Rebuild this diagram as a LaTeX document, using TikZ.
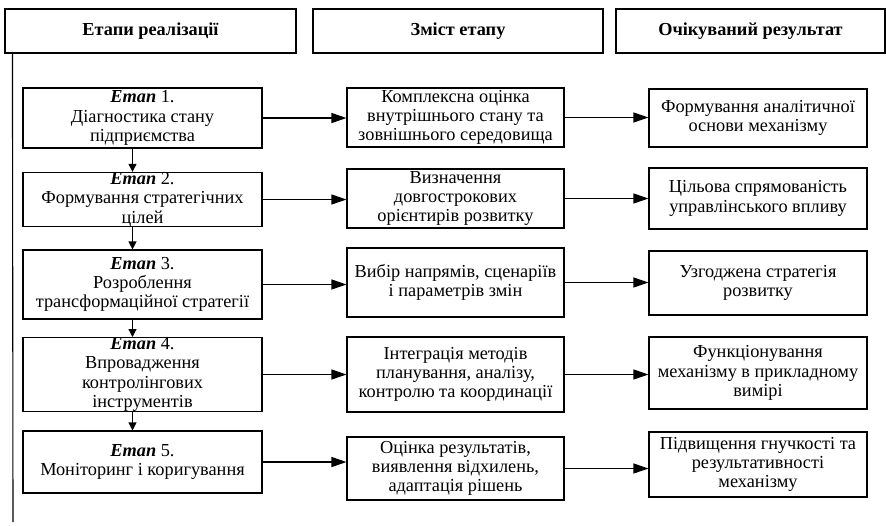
\documentclass[tikz,border=0pt]{standalone}
\usepackage{fontspec}
\setmainfont{Liberation Serif}
\usetikzlibrary{arrows.meta}
\begin{document}
\begin{tikzpicture}[x=1pt,y=-1pt,
  box/.style={draw, line width=1.1pt, align=center, inner sep=0pt,
    font=\fontsize{18.3}{19.3}\selectfont},
  hbox/.style={box, font=\fontsize{18.3}{19.3}\selectfont\bfseries, minimum height=44pt},
  lbox/.style={box, minimum width=239pt},
  mbox/.style={box, minimum width=217pt},
  rbox/.style={box, minimum width=218pt},
  harrow/.style={line width=1.1pt, -{Triangle[length=15pt,width=10pt]}},
  varrow/.style={line width=1.1pt, -{Triangle[length=8pt,width=8pt]}}
]
\useasboundingbox (0,0) rectangle (886,525);
% headers
\node[hbox, minimum width=291pt] (H1) at (150.5,31) {Етапи реалізації};
\node[hbox, minimum width=290pt] (H2) at (458,31) {Зміст етапу};
\node[hbox, minimum width=269pt] (H3) at (750.5,31) {Очікуваний результат};
% left column
\node[lbox, minimum height=60pt] (L1) at (142.5,118) {\textbf{\textit{Етап}} 1.\\Діагностика стану\\підприємства};
\node[lbox, minimum height=53pt] (L2) at (142.5,199.5) {\textbf{\textit{Етап}} 2.\\Формування стратегічних\\цілей};
\node[lbox, minimum height=69pt] (L3) at (142.5,284.5) {\textbf{\textit{Етап}} 3.\\Розроблення\\трансформаційної стратегії};
\node[lbox, minimum height=73pt] (L4) at (142.5,374.5) {\textbf{\textit{Етап}} 4.\\Впровадження\\контролінгових\\інструментів};
\node[lbox, minimum height=62pt] (L5) at (142.5,462) {\textbf{\textit{Етап}} 5.\\Моніторинг і коригування};
% middle column
\node[mbox, minimum height=59pt] (M1) at (455.5,117.5) {Комплексна оцінка\\внутрішнього стану та\\зовнішнього середовища};
\node[mbox, minimum height=59pt] (M2) at (455.5,198.5) {Визначення\\довгострокових\\орієнтирів розвитку};
\node[mbox, minimum height=69pt] (M3) at (455.5,282.5) {Вибір напрямів, сценаріїв\\і параметрів змін};
\node[mbox, minimum height=75pt] (M4) at (455.5,374.5) {Інтеграція методів\\планування, аналізу,\\контролю та координації};
\node[mbox, minimum height=63pt] (M5) at (455.5,468.5) {Оцінка результатів,\\виявлення відхилень,\\адаптація рішень};
% right column
\node[rbox, minimum height=58pt] (R1) at (758,118) {Формування аналітичної\\основи механізму};
\node[rbox, minimum height=61pt] (R2) at (758,198.5) {Цільова спрямованість\\управлінського впливу};
\node[rbox, minimum height=64pt] (R3) at (758,283) {Узгоджена стратегія\\розвитку};
\node[rbox, minimum height=72pt] (R4) at (758,373) {Функціонування\\механізму в прикладному\\вимірі};
\node[rbox, minimum height=65pt] (R5) at (758,464.5) {Підвищення гнучкості та\\результативності\\механізму};
% vertical side line
\coordinate (vend) at (13,522);
\draw[line width=1.1pt] ([xshift=8pt]H1.south west) -- (vend);
% vertical arrows
\foreach \a/\b in {L1/L2,L2/L3,L3/L4,L4/L5}
  \draw[varrow] ([xshift=-10pt]\a.south) -- ([xshift=-10pt]\b.north);
% horizontal arrows
\foreach \i in {1,...,5}{
  \draw[harrow] (L\i.east) -- (L\i.east -| M\i.west);
  \draw[harrow] (M\i.east) -- (M\i.east -| R\i.west);
}
\end{tikzpicture}
\end{document}
